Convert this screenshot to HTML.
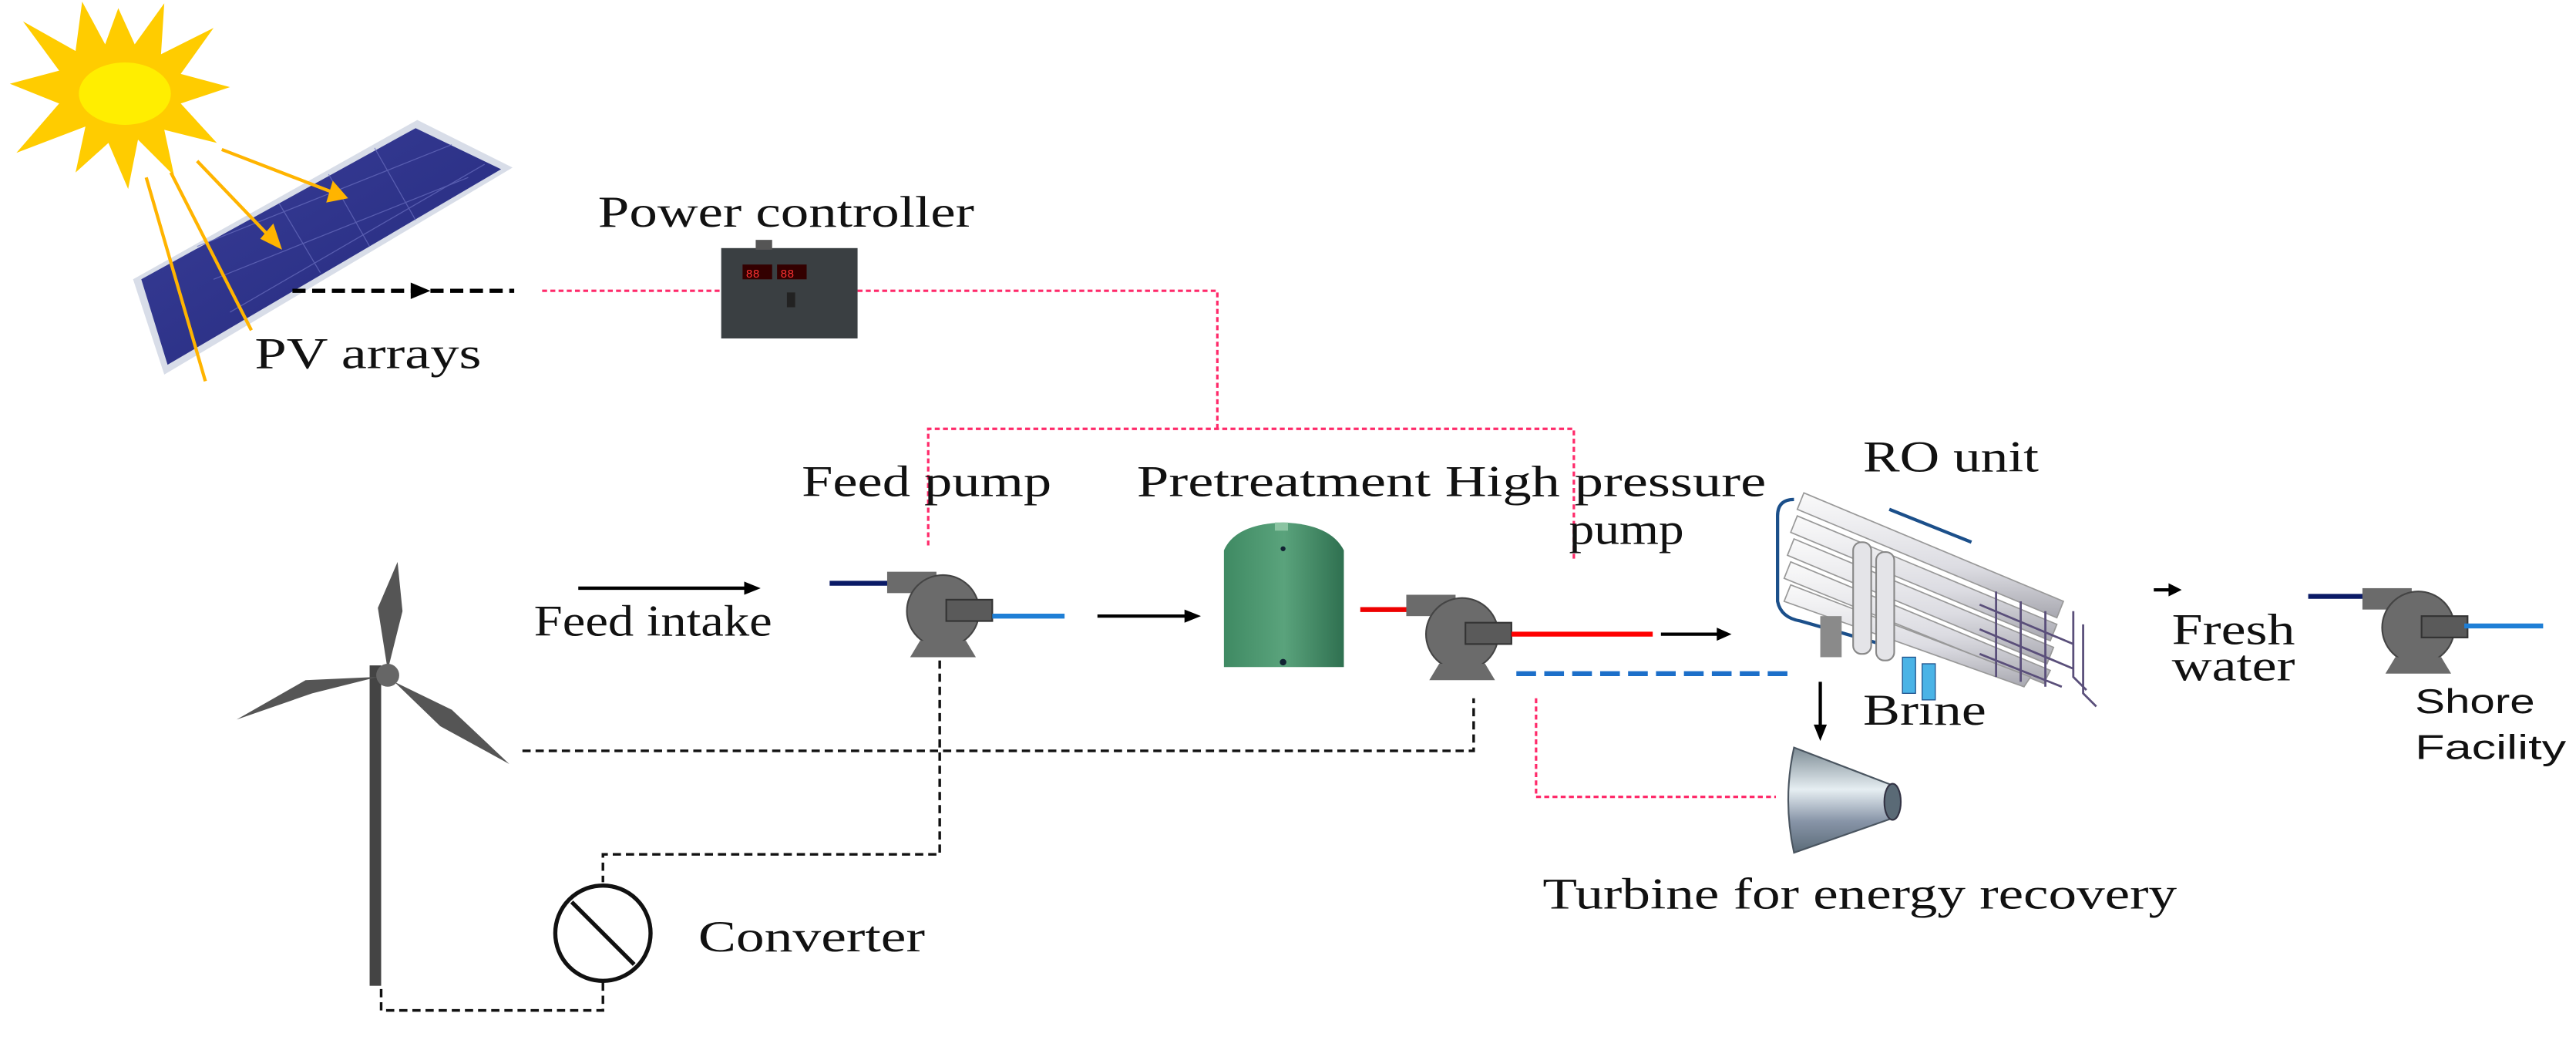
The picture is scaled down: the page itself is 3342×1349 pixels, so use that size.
<!DOCTYPE html>
<html><head><meta charset="utf-8"><style>html,body{margin:0;padding:0;background:#fff}svg{display:block}</style></head>
<body>
<svg width="3342" height="1349" viewBox="0 0 1568 633" preserveAspectRatio="none" xmlns="http://www.w3.org/2000/svg">
<defs>
<linearGradient id="pan" x1="0" y1="0" x2="1" y2="1"><stop offset="0" stop-color="#3a3f9a"/><stop offset="1" stop-color="#23287a"/></linearGradient>
<linearGradient id="tank" x1="0" x2="1"><stop offset="0" stop-color="#3f8a63"/><stop offset=".5" stop-color="#5aa37c"/><stop offset="1" stop-color="#2f7050"/></linearGradient>
<linearGradient id="cone" x1="0" y1="0" x2="0" y2="1"><stop offset="0" stop-color="#7e8d96"/><stop offset=".4" stop-color="#e6eef2"/><stop offset=".7" stop-color="#8895a8"/><stop offset="1" stop-color="#5b6b78"/></linearGradient>
<linearGradient id="tube" x1="0" y1="0" x2="0" y2="1"><stop offset="0" stop-color="#fafafa"/><stop offset=".6" stop-color="#dcdce2"/><stop offset="1" stop-color="#a8a8b0"/></linearGradient>
<g id="pump">
<rect x="0" y="4" width="30" height="13" fill="#6b6b6b"/>
<circle cx="34" cy="28" r="22" fill="#6b6b6b" stroke="#444" stroke-width="1"/>
<rect x="36" y="21" width="28" height="13" fill="#5a5a5a" stroke="#333" stroke-width="1"/>
<path d="M20 46 L48 46 L54 56 L14 56 Z" fill="#6b6b6b"/>
</g>
</defs>
<rect width="1568" height="633" fill="#fff"/>
<!-- sun -->
<g transform="translate(72,57)">
<polygon fill="#ffcc00" points="0,-52 10,-30 28,-55 26,-24 58,-40 38,-12 68,-4 38,6 60,30 28,22 34,50 12,28 6,58 -6,30 -26,48 -20,20 -62,36 -36,6 -66,-6 -36,-14 -58,-44 -26,-26 -22,-56 -8,-30"/>
<ellipse cx="4" cy="0" rx="28" ry="19" fill="#ffee00"/>
</g>
<!-- panel -->
<polygon points="254,73 312,102 100,228 81,170" fill="#d8dde8"/>
<polygon points="253,78 305,103 102,222 86,170" fill="url(#pan)"/>
<g stroke="#6a6fc0" stroke-width="0.6" opacity="0.7">
<line x1="170" y1="124" x2="195" y2="166"/><line x1="200" y1="106" x2="225" y2="150"/><line x1="228" y1="90" x2="253" y2="134"/>
<line x1="120" y1="150" x2="275" y2="88"/><line x1="130" y1="170" x2="285" y2="108"/><line x1="140" y1="190" x2="295" y2="100"/>
</g>
<g stroke="#ffb400" stroke-width="2" fill="#ffb400">
<line x1="89" y1="108" x2="125" y2="232"/>
<line x1="104" y1="105" x2="153" y2="201"/>
<line x1="120" y1="98" x2="166" y2="146"/><polygon points="170,150 160,145 166,138" />
<line x1="135" y1="91" x2="205" y2="118"/><polygon points="210,120 200,122 203,112"/>
</g>
<!-- PV arrow -->
<line x1="178" y1="177" x2="313" y2="177" stroke="#000" stroke-width="2.5" stroke-dasharray="8,4"/>
<polygon points="262,177 250,172 250,182" fill="#000"/>
<!-- red dotted power lines -->
<g stroke="#ff2a6a" stroke-width="1.5" stroke-dasharray="3,2" fill="none">
<line x1="330" y1="177" x2="440" y2="177"/>
<polyline points="522,177 741,177 741,261"/>
<polyline points="565,332 565,261 958,261 958,340"/>
<polyline points="935,425 935,485 1081,485"/>
</g>
<!-- power controller -->
<rect x="439" y="151" width="83" height="55" fill="#3a3f42"/>
<rect x="460" y="146" width="10" height="6" fill="#555"/>
<rect x="452" y="161" width="18" height="9" fill="#300"/><rect x="473" y="161" width="18" height="9" fill="#300"/>
<text x="454" y="169" font-size="7" fill="#f33" font-family="Liberation Mono">88</text><text x="475" y="169" font-size="7" fill="#f33" font-family="Liberation Mono">88</text>
<rect x="479" y="178" width="5" height="9" fill="#222"/>
<!-- labels -->
<g font-family="Liberation Serif, serif" fill="#111" font-size="27">
<text x="364" y="138" textLength="229" lengthAdjust="spacingAndGlyphs">Power controller</text>
<text x="155" y="224" textLength="138" lengthAdjust="spacingAndGlyphs">PV arrays</text>
<text x="488" y="302" textLength="152" lengthAdjust="spacingAndGlyphs">Feed pump</text>
<text x="692" y="302" textLength="383" lengthAdjust="spacingAndGlyphs">Pretreatment High pressure</text>
<text x="955" y="331" textLength="70" lengthAdjust="spacingAndGlyphs">pump</text>
<text x="1134" y="287" textLength="107" lengthAdjust="spacingAndGlyphs">RO unit</text>
<text x="325" y="387" textLength="145" lengthAdjust="spacingAndGlyphs">Feed intake</text>
<text x="1322" y="392" textLength="75" lengthAdjust="spacingAndGlyphs">Fresh</text>
<text x="1322" y="414" textLength="75" lengthAdjust="spacingAndGlyphs">water</text>
<text x="1134" y="441" textLength="75" lengthAdjust="spacingAndGlyphs">Brine</text>
<text x="939" y="553" textLength="386" lengthAdjust="spacingAndGlyphs">Turbine for energy recovery</text>
<text x="425" y="579" textLength="138" lengthAdjust="spacingAndGlyphs">Converter</text>
</g>
<g font-family="Liberation Sans, sans-serif" fill="#111" font-size="21">
<text x="1470" y="434" textLength="73" lengthAdjust="spacingAndGlyphs">Shore</text>
<text x="1470" y="462" textLength="92" lengthAdjust="spacingAndGlyphs">Facility</text>
</g>
<!-- feed intake arrow -->
<line x1="352" y1="358" x2="455" y2="358" stroke="#000" stroke-width="2"/><polygon points="463,358 453,354 453,362" fill="#000"/>
<!-- feed pump -->
<line x1="505" y1="355" x2="545" y2="355" stroke="#0a1a66" stroke-width="3"/>
<use href="#pump" transform="translate(540,344)"/>
<line x1="604" y1="375" x2="648" y2="375" stroke="#1f7fd6" stroke-width="3"/>
<line x1="668" y1="375" x2="722" y2="375" stroke="#000" stroke-width="2"/><polygon points="731,375 721,371 721,379" fill="#000"/>
<!-- tank -->
<path d="M745 335 Q752 319 781 318 Q810 319 818 335 L818 406 L745 406 Z" fill="url(#tank)"/>
<rect x="776" y="318" width="8" height="5" fill="#8bc4a2"/>
<circle cx="781" cy="334" r="1.5" fill="#123"/><circle cx="781" cy="403" r="2" fill="#123"/>
<!-- HP pump -->
<line x1="828" y1="371" x2="860" y2="371" stroke="#e00" stroke-width="3"/>
<use href="#pump" transform="translate(856,358)"/>
<line x1="920" y1="386" x2="1006" y2="386" stroke="#f00" stroke-width="3"/>
<line x1="1011" y1="386" x2="1046" y2="386" stroke="#000" stroke-width="2"/><polygon points="1054,386 1045,382 1045,390" fill="#000"/>
<line x1="923" y1="410" x2="1092" y2="410" stroke="#1c6fc9" stroke-width="3" stroke-dasharray="12,5"/>
<!-- brine arrow -->
<line x1="1108" y1="415" x2="1108" y2="442" stroke="#000" stroke-width="2"/><polygon points="1108,451 1104,441 1112,441" fill="#000"/>
<!-- turbine -->
<path d="M1092 455 L1152 478 L1152 498 L1092 519 Q1085 487 1092 455 Z" fill="url(#cone)" stroke="#4a5560" stroke-width="1"/>
<ellipse cx="1152" cy="488" rx="5" ry="11" fill="#5a6a76" stroke="#334" stroke-width="1"/>
<!-- RO unit -->
<g>
<path d="M1092 304 Q1082 304 1082 314 L1082 366 Q1084 376 1096 378 L1145 392 M1150 310 L1200 330" stroke="#1b4f8a" stroke-width="2" fill="none"/>
<g stroke="#999" stroke-width="0.8" fill="url(#tube)">
<path d="M1098 300 L1256 366 L1252 376 L1094 310 Z"/>
<path d="M1094 314 L1252 380 L1248 390 L1090 324 Z"/>
<path d="M1092 328 L1250 394 L1246 404 L1088 338 Z"/>
<path d="M1090 342 L1248 408 L1244 416 L1086 352 Z"/>
<path d="M1090 356 L1236 412 L1232 418 L1086 366 Z"/>
</g>
<rect x="1128" y="330" width="11" height="68" rx="5" fill="#e4e4e8" stroke="#888"/>
<rect x="1142" y="336" width="11" height="66" rx="5" fill="#e4e4e8" stroke="#888"/>
<rect x="1108" y="375" width="13" height="25" fill="#8a8a8a"/>
<rect x="1158" y="400" width="8" height="22" fill="#4ab3e6" stroke="#1b4f8a" stroke-width="0.6"/><rect x="1170" y="404" width="8" height="22" fill="#4ab3e6" stroke="#1b4f8a" stroke-width="0.6"/>
<g stroke="#5a4f7a" stroke-width="1.3" fill="none">
<path d="M1205 368 L1262 392 M1205 383 L1262 407 M1205 398 L1255 418 M1215 360 L1215 412 M1230 366 L1230 415 M1245 372 L1245 418 M1262 372 L1262 412 L1270 420 M1268 380 L1268 422 L1276 430"/>
</g>
</g>
<line x1="1311" y1="359" x2="1322" y2="359" stroke="#000" stroke-width="2"/><polygon points="1328,359 1320,355 1320,363" fill="#000"/>
<!-- shore pump -->
<line x1="1405" y1="363" x2="1440" y2="363" stroke="#0a1a66" stroke-width="3"/>
<use href="#pump" transform="translate(1438,354)"/>
<line x1="1500" y1="381" x2="1548" y2="381" stroke="#1f7fd6" stroke-width="3"/>
<!-- black dashed electric lines -->
<g stroke="#111" stroke-width="1.6" stroke-dasharray="5,3" fill="none">
<polyline points="318,457 897,457 897,425"/>
<polyline points="572,402 572,520 367,520 367,537"/>
<polyline points="367,598 367,615 232,615 232,600"/>
</g>
<!-- converter -->
<circle cx="367" cy="568" r="29" fill="#fff" stroke="#111" stroke-width="2.5"/>
<line x1="348" y1="549" x2="386" y2="587" stroke="#111" stroke-width="2.5"/>
<!-- wind turbine -->
<rect x="225" y="405" width="7" height="195" fill="#444"/>
<path d="M236 408 L230 370 L242 342 L245 372 Z" fill="#555"/>
<path d="M230 412 L190 422 L144 438 L186 414 Z" fill="#555"/>
<path d="M240 415 L275 432 L310 465 L268 442 Z" fill="#555"/>
<circle cx="236" cy="411" r="7" fill="#666"/>
</svg>
</body></html>
